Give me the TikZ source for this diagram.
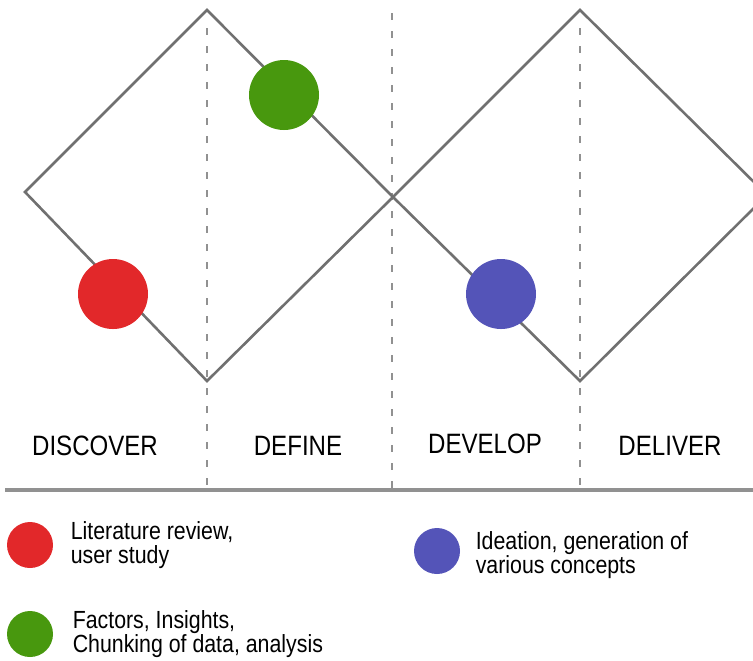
\documentclass[tikz,border=0pt]{standalone}
\usepackage{fontspec}
\setmainfont{Liberation Sans}[FakeStretch=0.86]
\usepackage{tikz}
\usetikzlibrary{positioning}
\definecolor{stagered}{RGB}{226,40,42}
\definecolor{stagegreen}{RGB}{72,152,14}
\definecolor{stageblue}{RGB}{84,84,184}
\definecolor{edgegray}{RGB}{112,112,112}
\definecolor{sepgray}{RGB}{145,145,145}

\begin{document}
\begin{tikzpicture}[x=0.5pt,y=-0.5pt,
  diamond line/.style={draw=edgegray,line width=1.3pt,line join=miter},
  phase sep/.style={draw=sepgray,line width=1.2pt,dash pattern=on 3.5pt off 5.5pt},
  dot/.style={circle,fill=#1,inner sep=0pt,minimum size=35pt},
  keydot/.style={circle,fill=#1,inner sep=0pt,minimum size=23pt},
  phase/.style={anchor=base,inner sep=0pt,font=\fontsize{14}{16}\selectfont},
  keytext/.style={inner sep=0pt,align=left,font=\fontsize{12.4}{12.2}\selectfont}]
  \useasboundingbox (0,0) rectangle (753,660);
  \clip (0,0) rectangle (753,660);
  %%% phase separators
  \foreach \xx/\yy [count=\i] in {207/28,392/13,580/28} {
    \coordinate (sep\i top) at (\xx,\yy);
    \coordinate (sep\i bot) at (\xx,490);
    \draw[phase sep] (sep\i top) -- (sep\i bot);
  }
  %%% double diamond
  \coordinate (dl top) at (207,10);
  \coordinate (dl left) at (25,192);
  \coordinate (dl bot) at (207,381);
  \coordinate (waist) at (393,197);
  \coordinate (dr top) at (580,10);
  \coordinate (dr bot) at (580,381);
  \coordinate (dr right) at (767,195);
  \draw[diamond line] (dl top) -- (dl left) -- (dl bot) -- (waist) -- cycle;
  \draw[diamond line] (dr top) -- (waist) -- (dr bot) -- (dr right) -- cycle;
  %
  \node[dot=stagered] (discover dot) at (113,294) {};
  \node[dot=stagegreen] (define dot) at (284,95) {};
  \node[dot=stageblue] (develop dot) at (501,294) {};
  %%% phase names
  \node[phase] (discover) at (95,455) {DISCOVER};
  \node[phase] (define) at (298,455) {DEFINE};
  \node[phase] (develop) at (485,453) {DEVELOP};
  \node[phase] (deliver) at (670,455) {DELIVER};
  %%% base line
  \coordinate (base left) at (5,490);
  \coordinate (base right) at (753,490);
  \draw[draw=sepgray,line width=1.6pt] (base left) -- (base right);
  %%% legend
  \node[keydot=stagered] (key red) at (30,545) {};
  \node[keytext,right=8.5pt of key red] (key red text) {Literature review,\\user study};
  \node[keydot=stageblue] (key blue) at (437,551) {};
  \node[keytext,right=7.5pt of key blue,yshift=-2pt] (key blue text) {Ideation, generation of\\various concepts};
  \node[keydot=stagegreen] (key green) at (30,634) {};
  \node[keytext,right=9.5pt of key green] (key green text) {Factors, Insights,\\Chunking of data, analysis};
\end{tikzpicture}
\end{document}
